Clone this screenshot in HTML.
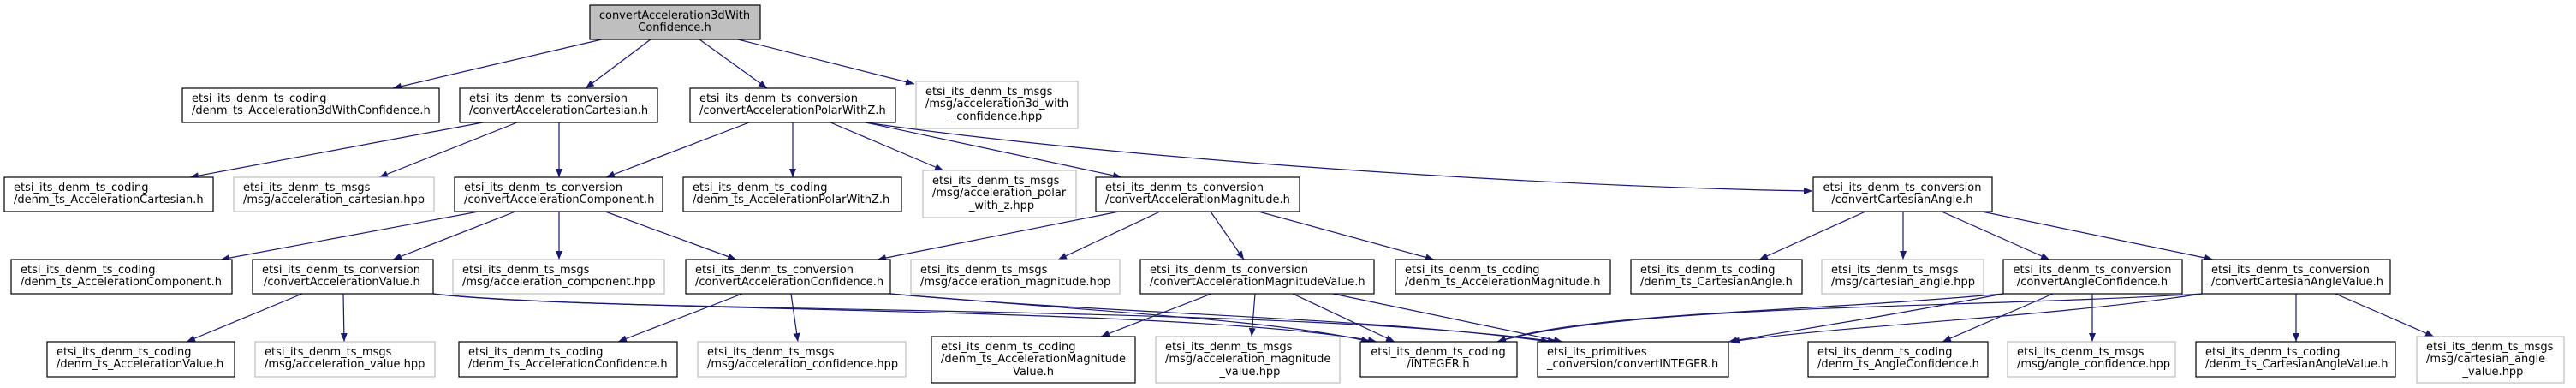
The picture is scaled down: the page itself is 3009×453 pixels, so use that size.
<!DOCTYPE html>
<html><head><meta charset="utf-8"><style>
html,body{margin:0;padding:0;background:#fff;}
svg{display:block;}
text{font-family:"DejaVu Sans","Liberation Sans",sans-serif;font-size:13px;fill:#000;}
.b{fill:#fff;stroke:#000;stroke-width:1.2;}
.g{fill:#fff;stroke:#bfbfbf;stroke-width:1.2;}
.e{fill:none;stroke:#191970;stroke-width:1.2;marker-end:url(#ah);}
</style></head><body>
<svg width="3009" height="453" viewBox="0 0 3009 453" xmlns="http://www.w3.org/2000/svg">
<defs><marker id="ah" markerWidth="10" markerHeight="8" refX="10" refY="4" orient="auto" markerUnits="userSpaceOnUse"><path d="M0,0 L10,4 L0,8 z" fill="#191970"/></marker></defs>

<!-- edges -->
<path class="e" d="M703,46 L459,103"/>
<path class="e" d="M760,46 L684,103"/>
<path class="e" d="M817,46 L896,103"/>
<path class="e" d="M862,46 L1068,98"/>
<path class="e" d="M564,143 L222,207"/>
<path class="e" d="M604,143 L443,207"/>
<path class="e" d="M653,143 L653,207"/>
<path class="e" d="M875,143 L708,207"/>
<path class="e" d="M926,143 L926,207"/>
<path class="e" d="M970,143 L1102,199"/>
<path class="e" d="M1011,143 L1310,207"/>
<path class="e" d="M1011,143 C1300,185 1800,218 2117,223"/>
<path class="e" d="M559,247 L258,303"/>
<path class="e" d="M602,247 L459,303"/>
<path class="e" d="M653,247 L653,303"/>
<path class="e" d="M707,247 L860,303"/>
<path class="e" d="M1307,247 L1025,303"/>
<path class="e" d="M1355,247 L1236,303"/>
<path class="e" d="M1414,247 L1453,303"/>
<path class="e" d="M1470,247 L1675,303"/>
<path class="e" d="M2179,247 L2055,303"/>
<path class="e" d="M2223,247 L2223,303"/>
<path class="e" d="M2268,247 L2394,303"/>
<path class="e" d="M2315,247 L2585,303"/>
<path class="e" d="M353,343 L218,399"/>
<path class="e" d="M401,343 L402,399"/>
<path class="e" d="M506,343 C700,365 1400,358 1608,399"/>
<path class="e" d="M506,343 C700,367 1500,355 1818,399"/>
<path class="e" d="M867,343 L722,399"/>
<path class="e" d="M924,343 L932,399"/>
<path class="e" d="M1040,343 C1300,365 1500,375 1600,399"/>
<path class="e" d="M1040,343 C1300,367 1600,370 1810,399"/>
<path class="e" d="M1415,343 L1286,393"/>
<path class="e" d="M1466,343 L1462,393"/>
<path class="e" d="M1510,343 L1629,399"/>
<path class="e" d="M1557,343 L1825,399"/>
<path class="e" d="M2340,343 C2100,365 1850,365 1749,399"/>
<path class="e" d="M2340,343 C2200,370 2100,385 2019,399"/>
<path class="e" d="M2398,343 L2269,399"/>
<path class="e" d="M2444,343 L2444,399"/>
<path class="e" d="M2572,343 C2300,360 1900,355 1749,399"/>
<path class="e" d="M2572,343 C2400,370 2150,380 2022,399"/>
<path class="e" d="M2682,343 L2682,399"/>
<path class="e" d="M2728,343 L2843,393"/>

<!-- root -->
<rect x="689" y="6" width="199" height="40" fill="#bfbfbf" stroke="#000" stroke-width="1.2"/>
<text x="788" y="22" text-anchor="middle">convertAcceleration3dWith</text>
<text x="788" y="36" text-anchor="middle">Confidence.h</text>

<!-- row 1 -->
<rect class="b" x="213" y="103" width="300" height="40"/>
<text x="224" y="119">etsi_its_denm_ts_coding</text><text x="224" y="133">/denm_ts_Acceleration3dWithConfidence.h</text>
<rect class="b" x="537" y="103" width="231" height="40"/>
<text x="548" y="119">etsi_its_denm_ts_conversion</text><text x="548" y="133">/convertAccelerationCartesian.h</text>
<rect class="b" x="806" y="103" width="240" height="40"/>
<text x="817" y="119">etsi_its_denm_ts_conversion</text><text x="817" y="133">/convertAccelerationPolarWithZ.h</text>
<rect class="g" x="1070" y="95" width="189" height="55"/>
<text x="1081" y="111">etsi_its_denm_ts_msgs</text><text x="1081" y="125">/msg/acceleration3d_with</text><text x="1164" y="140" text-anchor="middle">_confidence.hpp</text>

<!-- row 2 -->
<rect class="b" x="5" y="207" width="244" height="40"/>
<text x="16" y="223">etsi_its_denm_ts_coding</text><text x="16" y="237">/denm_ts_AccelerationCartesian.h</text>
<rect class="g" x="273" y="207" width="234" height="40"/>
<text x="284" y="223">etsi_its_denm_ts_msgs</text><text x="284" y="237">/msg/acceleration_cartesian.hpp</text>
<rect class="b" x="531" y="207" width="243" height="40"/>
<text x="542" y="223">etsi_its_denm_ts_conversion</text><text x="542" y="237">/convertAccelerationComponent.h</text>
<rect class="b" x="798" y="207" width="255" height="40"/>
<text x="809" y="223">etsi_its_denm_ts_coding</text><text x="809" y="237">/denm_ts_AccelerationPolarWithZ.h</text>
<rect class="g" x="1078" y="199" width="179" height="55"/>
<text x="1089" y="215">etsi_its_denm_ts_msgs</text><text x="1089" y="229">/msg/acceleration_polar</text><text x="1170" y="244" text-anchor="middle">_with_z.hpp</text>
<rect class="b" x="1280" y="207" width="238" height="40"/>
<text x="1291" y="223">etsi_its_denm_ts_conversion</text><text x="1291" y="237">/convertAccelerationMagnitude.h</text>
<rect class="b" x="2118" y="207" width="209" height="40"/>
<text x="2222" y="223" text-anchor="middle">etsi_its_denm_ts_conversion</text><text x="2222" y="237" text-anchor="middle">/convertCartesianAngle.h</text>

<!-- row 3 -->
<rect class="b" x="13" y="303" width="258" height="40"/>
<text x="24" y="319">etsi_its_denm_ts_coding</text><text x="24" y="333">/denm_ts_AccelerationComponent.h</text>
<rect class="b" x="295" y="303" width="211" height="40"/>
<text x="306" y="319">etsi_its_denm_ts_conversion</text><text x="308" y="333">/convertAccelerationValue.h</text>
<rect class="g" x="529" y="303" width="247" height="40"/>
<text x="540" y="319">etsi_its_denm_ts_msgs</text><text x="540" y="333">/msg/acceleration_component.hpp</text>
<rect class="b" x="801" y="303" width="239" height="40"/>
<text x="812" y="319">etsi_its_denm_ts_conversion</text><text x="812" y="333">/convertAccelerationConfidence.h</text>
<rect class="g" x="1064" y="303" width="244" height="40"/>
<text x="1075" y="319">etsi_its_denm_ts_msgs</text><text x="1075" y="333">/msg/acceleration_magnitude.hpp</text>
<rect class="b" x="1332" y="303" width="273" height="40"/>
<text x="1343" y="319">etsi_its_denm_ts_conversion</text><text x="1343" y="333">/convertAccelerationMagnitudeValue.h</text>
<rect class="b" x="1630" y="303" width="251" height="40"/>
<text x="1641" y="319">etsi_its_denm_ts_coding</text><text x="1641" y="333">/denm_ts_AccelerationMagnitude.h</text>
<rect class="b" x="1905" y="303" width="200" height="40"/>
<text x="1916" y="319">etsi_its_denm_ts_coding</text><text x="1916" y="333">/denm_ts_CartesianAngle.h</text>
<rect class="g" x="2128" y="303" width="189" height="40"/>
<text x="2139" y="319">etsi_its_denm_ts_msgs</text><text x="2139" y="333">/msg/cartesian_angle.hpp</text>
<rect class="b" x="2340" y="303" width="209" height="40"/>
<text x="2444" y="319" text-anchor="middle">etsi_its_denm_ts_conversion</text><text x="2444" y="333" text-anchor="middle">/convertAngleConfidence.h</text>
<rect class="b" x="2572" y="303" width="220" height="40"/>
<text x="2583" y="319">etsi_its_denm_ts_conversion</text><text x="2583" y="333">/convertCartesianAngleValue.h</text>

<!-- row 4 -->
<rect class="b" x="55" y="399" width="219" height="41"/>
<text x="66" y="415">etsi_its_denm_ts_coding</text><text x="66" y="429">/denm_ts_AccelerationValue.h</text>
<rect class="g" x="298" y="399" width="210" height="41"/>
<text x="309" y="415">etsi_its_denm_ts_msgs</text><text x="309" y="429">/msg/acceleration_value.hpp</text>
<rect class="b" x="536" y="399" width="255" height="41"/>
<text x="547" y="415">etsi_its_denm_ts_coding</text><text x="547" y="429">/denm_ts_AccelerationConfidence.h</text>
<rect class="g" x="815" y="399" width="243" height="41"/>
<text x="826" y="415">etsi_its_denm_ts_msgs</text><text x="826" y="429">/msg/acceleration_confidence.hpp</text>
<rect class="b" x="1088" y="393" width="238" height="54"/>
<text x="1099" y="409">etsi_its_denm_ts_coding</text><text x="1099" y="423">/denm_ts_AccelerationMagnitude</text><text x="1207" y="438" text-anchor="middle">Value.h</text>
<rect class="g" x="1350" y="393" width="215" height="54"/>
<text x="1361" y="409">etsi_its_denm_ts_msgs</text><text x="1361" y="423">/msg/acceleration_magnitude</text><text x="1460" y="438" text-anchor="middle">_value.hpp</text>
<rect class="b" x="1589" y="399" width="183" height="41"/>
<text x="1680" y="415" text-anchor="middle">etsi_its_denm_ts_coding</text><text x="1680" y="429" text-anchor="middle">/INTEGER.h</text>
<rect class="b" x="1796" y="399" width="223" height="41"/>
<text x="1807" y="415">etsi_its_primitives</text><text x="1807" y="429">_conversion/convertINTEGER.h</text>
<rect class="b" x="2112" y="399" width="210" height="41"/>
<text x="2123" y="415">etsi_its_denm_ts_coding</text><text x="2123" y="429">/denm_ts_AngleConfidence.h</text>
<rect class="g" x="2345" y="399" width="196" height="41"/>
<text x="2356" y="415">etsi_its_denm_ts_msgs</text><text x="2356" y="429">/msg/angle_confidence.hpp</text>
<rect class="b" x="2565" y="399" width="233" height="41"/>
<text x="2576" y="415">etsi_its_denm_ts_coding</text><text x="2576" y="429">/denm_ts_CartesianAngleValue.h</text>
<rect class="g" x="2823" y="393" width="172" height="54"/>
<text x="2834" y="409">etsi_its_denm_ts_msgs</text><text x="2834" y="423">/msg/cartesian_angle</text><text x="2912" y="438" text-anchor="middle">_value.hpp</text>
</svg>
</body></html>
